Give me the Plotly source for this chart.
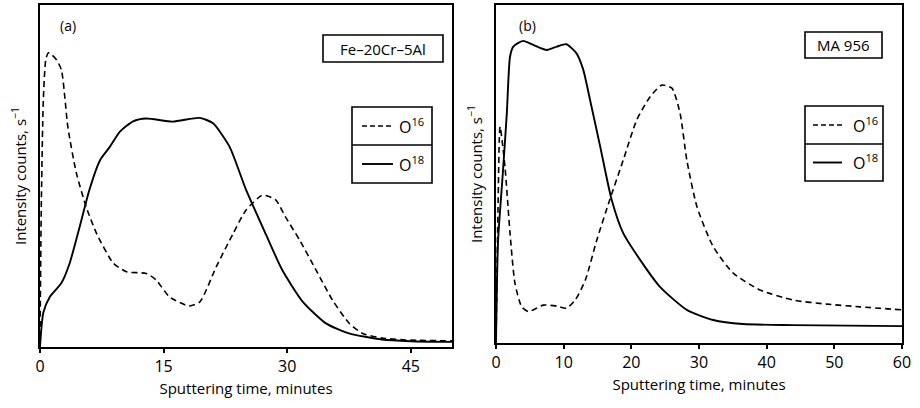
import plotly.graph_objects as go

# ---------------- data ----------------
# Panel (a) Fe-20Cr-5Al, time in minutes, intensity in arbitrary units (0-100 of axis)
a_o16_t = [0, 0.15, 0.4, 0.7, 1.0, 1.4, 2.0, 2.6, 3.4, 4.4, 5.6, 6.9, 8.9, 10.5, 12.9, 14.1,
           15.7, 18.1, 19.4, 21.4, 23.4, 25.0, 27.0, 28.6, 29.8, 31.5, 33.5, 35.5, 37.5,
           39.1, 41.5, 45.0, 50.0]
a_o16_i = [0, 40, 72, 84, 86, 85.5, 84, 81, 64, 51, 41, 33, 24.5, 22, 21.5, 19.6,
           14.7, 12, 13.2, 23.5, 33, 40, 44.4, 43, 38, 31.3, 22.5, 13.7, 7,
           4, 2.6, 2.0, 1.8]
a_o18_t = [0, 0.4, 1.2, 2.6, 3.6, 4.8, 6.0, 7.3, 8.5, 9.7, 11.3, 12.9, 16.1, 19.4, 21.0,
           23.0, 25.0, 27.4, 29.4, 31.9, 34.7, 37.5, 41.5, 45.0, 50.0]
a_o18_i = [0, 10, 14.7, 18.7, 24.5, 35, 46, 54.7, 58.6, 63, 66, 66.8, 65.9, 67, 65.4,
           58.6, 46, 33, 22.5, 13.2, 6.9, 4, 2.2, 1.7, 1.5]

# Panel (b) MA 956
b_o16_t = [0, 0.3, 0.6, 1.33, 2.07, 2.8, 3.8, 4.8, 7.0, 9.0, 10.4, 11.7, 13.2, 14.9, 16.8,
           18.8, 20.8, 22.8, 24.5, 26.0, 27.2, 28.2, 29.7, 32.1, 35.1, 39.0, 43.9, 48.9,
           53.8, 60.0]
b_o16_i = [0, 40, 64, 52, 32.5, 17.7, 10.7, 9.3, 11.2, 10.9, 10.3, 12.7, 18.6, 30.5, 42.3,
           54.1, 66, 72.9, 76.3, 75.4, 68, 54.1, 40.3, 28.5, 20.6, 15.7, 12.7, 11.5,
           10.7, 9.8]
b_o18_t = [0, 0.3, 1.0, 1.6, 2.07, 2.56, 4.0, 5.5, 7.5, 9.0, 10.4, 11.9, 12.9, 13.9, 15.4,
           17.1, 18.8, 21.3, 24.2, 28.2, 32.1, 36.5, 43.9, 60.0]
b_o18_i = [0, 30, 50, 68, 84.7, 87.7, 89.4, 88.2, 86.7, 87.7, 88.4, 85.7, 80.8, 71.9, 58.1,
           42.3, 32.5, 24.6, 16.7, 9.8, 6.8, 5.6, 5.3, 5.0]

a_ticks = [0, 15, 30, 45]
b_ticks = [0, 10, 20, 30, 40, 50, 60]
panel_labels = ["(a)", "(b)"]
alloy_labels = ["Fe–20Cr–5Al", "MA 956"]
series_labels = ["O<sup>16</sup>", "O<sup>18</sup>"]
x_title = "Sputtering time, minutes"
y_title = "Intensity counts, s<sup>−1</sup>"

# ---------------- layout helpers ----------------
W, H = 920, 408
FONT = "Open Sans"


def px(x):
    return x / W


def py(y):
    return 1 - y / H


fig = go.Figure()
dash_style = "6px,4px"
fig.add_trace(go.Scatter(x=a_o16_t, y=a_o16_i, mode="lines", line=dict(color="black", width=1.6, dash=dash_style, shape="spline", smoothing=0.6), xaxis="x", yaxis="y", showlegend=False))
fig.add_trace(go.Scatter(x=a_o18_t, y=a_o18_i, mode="lines", line=dict(color="black", width=1.9, shape="spline", smoothing=0.6), xaxis="x", yaxis="y", showlegend=False))
fig.add_trace(go.Scatter(x=b_o16_t, y=b_o16_i, mode="lines", line=dict(color="black", width=1.6, dash=dash_style, shape="spline", smoothing=0.6), xaxis="x2", yaxis="y2", showlegend=False))
fig.add_trace(go.Scatter(x=b_o18_t, y=b_o18_i, mode="lines", line=dict(color="black", width=1.9, shape="spline", smoothing=0.6), xaxis="x2", yaxis="y2", showlegend=False))

ax_common = dict(showgrid=False, zeroline=False, showline=True, linecolor="black", linewidth=2, mirror=True)
xcommon = dict(ax_common, ticks="outside", ticklen=4, tickwidth=1.5, tickcolor="black",
               tickfont=dict(family=FONT, size=16, color="black"),
               title=dict(text=x_title, font=dict(family=FONT, size=15, color="black"), standoff=7),
               automargin=False)
ycommon = dict(ax_common, ticks="", showticklabels=False, range=[0, 100], fixedrange=True,
               title=dict(text=y_title, font=dict(family=FONT, size=15, color="black"), standoff=8),
               automargin=False)

fig.update_layout(
    width=W, height=H,
    margin=dict(l=0, r=0, t=0, b=0),
    paper_bgcolor="white", plot_bgcolor="white",
    font=dict(family=FONT, color="black", size=14),
    xaxis=dict(xcommon, domain=[px(40), px(452)], range=[0, 50], tickvals=a_ticks, anchor="y"),
    yaxis=dict(ycommon, domain=[py(347), py(5)], anchor="x"),
    xaxis2=dict(xcommon, domain=[px(496), px(902)], range=[0, 60], tickvals=b_ticks, anchor="y2"),
    yaxis2=dict(ycommon, domain=[py(343), py(5)], anchor="x2"),
)

ann = []
shapes = []


def text(x, y, s, size=14, xanchor="center", textangle=0):
    ann.append(dict(xref="paper", yref="paper", x=px(x), y=py(y), text=s, showarrow=False,
                    xanchor=xanchor, yanchor="middle", textangle=textangle,
                    font=dict(family=FONT, size=size, color="black")))


def rect(x0, y0, x1, y1):
    shapes.append(dict(type="rect", xref="paper", yref="paper", x0=px(x0), x1=px(x1), y0=py(y0), y1=py(y1),
                       line=dict(color="black", width=1.6), fillcolor="white", layer="above"))


def hline(x0, x1, y, dash="solid", width=1.6):
    shapes.append(dict(type="line", xref="paper", yref="paper", x0=px(x0), x1=px(x1), y0=py(y), y1=py(y),
                       line=dict(color="black", width=width, dash=dash), layer="above"))


# panel labels
text(68, 25, panel_labels[0], size=14)
text(527, 25, panel_labels[1], size=14)

# alloy name boxes
rect(323, 35, 443, 62)
text(383, 48.5, alloy_labels[0], size=15)
rect(805, 32, 882, 58)
text(843.5, 45, alloy_labels[1], size=15)

# legend boxes
for (bx0, bx1, by0, bmid, by1, lx0, lx1, tx) in [(352, 432, 107, 145, 183, 362, 393, 397),
                                                  (805, 883, 106, 144, 181, 813, 842, 851)]:
    rect(bx0, by0, bx1, by1)
    hline(bx0, bx1, bmid)
    r1 = (by0 + bmid) / 2
    r2 = (bmid + by1) / 2
    hline(lx0, lx1, r1, dash="5px,3px", width=1.6)
    hline(lx0, lx1, r2, width=1.9)
    text(tx, r1, series_labels[0], size=16, xanchor="left")
    text(tx, r2, series_labels[1], size=16, xanchor="left")

fig.update_layout(annotations=ann, shapes=shapes)
fig.write_html("out.html")
